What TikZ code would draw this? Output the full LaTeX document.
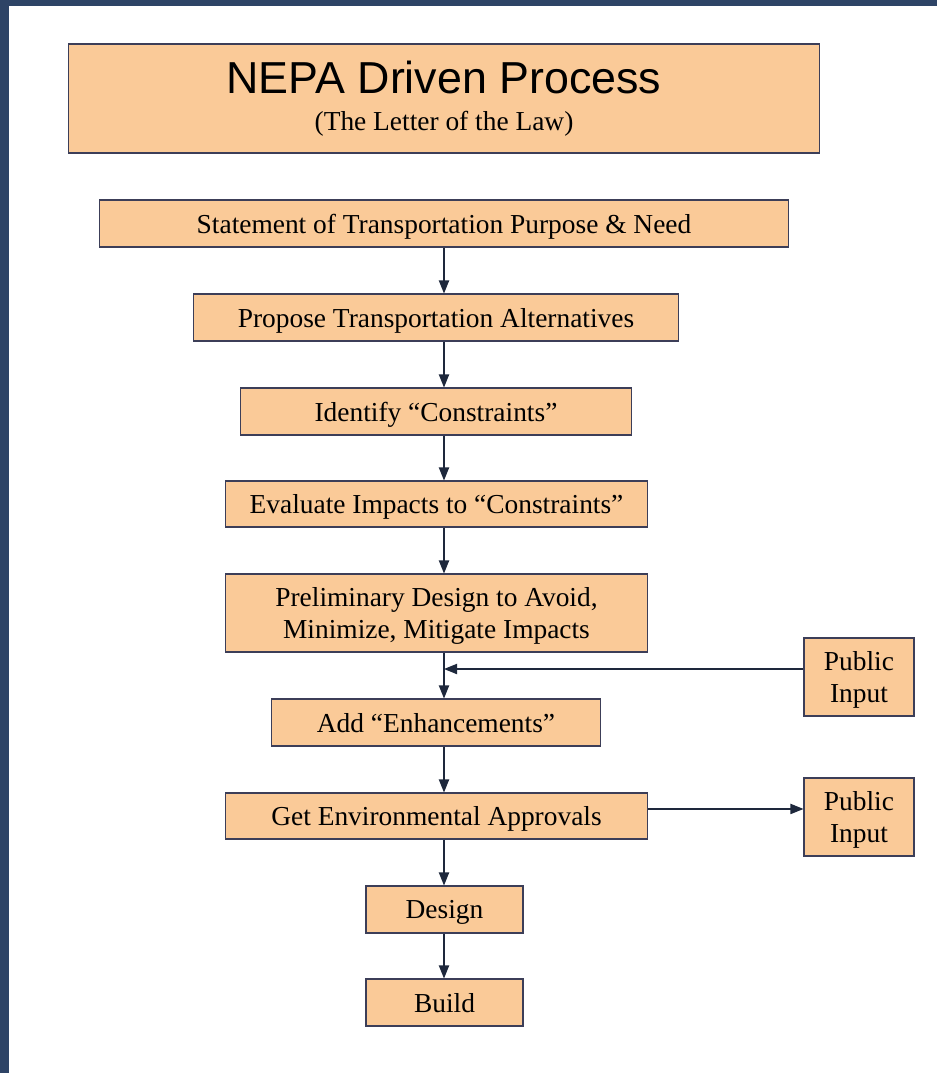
\documentclass[tikz,border=0pt]{standalone}
\usepackage{fontspec}
\usepackage{xcolor}
\usepackage{tikz}
\usetikzlibrary{arrows.meta}
\setmainfont{Liberation Serif}
\newfontfamily\headfont{Liberation Sans}
\definecolor{slide-blue}{RGB}{46,68,102}
\definecolor{box-fill}{RGB}{250,202,152}
\definecolor{box-line}{RGB}{60,62,88}
\definecolor{arrow-line}{RGB}{30,40,60}
\tikzset{
    step-box/.style = {draw=box-line, fill=box-fill, line width=0.6pt, rectangle, inner sep=0pt, text depth=0pt, align=center, font=\fontsize{15.6}{18}\selectfont},
    flow-arrow/.style = {draw=arrow-line, line width=0.7pt, -{Triangle[length=7.4pt,width=5.8pt]}},
}

\begin{document}
\begin{tikzpicture}[x=0.02cm, y=-0.02cm]
\fill[slide-blue] (0,0) rectangle (937,1073);
\fill[white] (9,6) rectangle (937,1073);
\useasboundingbox (0,0) rectangle (937,1073);

\node[step-box, minimum width=15.04cm, minimum height=2.18cm] (title) at (444,98.5) {};
\node[anchor=base, font=\headfont\fontsize{25.5}{30}\selectfont] (title-text) at (444,93) {NEPA Driven Process};
\node[anchor=base, font=\fontsize{15.6}{18}\selectfont] (title-sub) at (444,130) {(The Letter of the Law)};

\node[step-box, minimum width=13.8cm, minimum height=0.94cm] (need) at (444,223.5) {Statement of Transportation Purpose \& Need};
\node[step-box, minimum width=9.72cm, minimum height=0.94cm] (propose) at (436,317.5) {Propose Transportation Alternatives};
\node[step-box, minimum width=7.84cm, minimum height=0.94cm] (identify) at (436,411.5) {Identify “Constraints”};
\node[step-box, minimum width=8.46cm, minimum height=0.92cm] (evaluate) at (436.5,504) {Evaluate Impacts to “Constraints”};
\node[step-box, minimum width=8.46cm, minimum height=1.56cm] (prelim) at (436.5,613) {Preliminary Design to Avoid,\\Minimize, Mitigate Impacts};
\node[step-box, minimum width=6.6cm, minimum height=0.94cm] (enhance) at (436,722.5) {Add “Enhancements”};
\node[step-box, minimum width=8.46cm, minimum height=0.92cm] (approve) at (436.5,816) {Get Environmental Approvals};
\node[step-box, minimum width=3.14cm, minimum height=0.94cm] (design) at (444.5,909.5) {Design};
\node[step-box, minimum width=3.14cm, minimum height=0.94cm] (build) at (444.5,1002.5) {Build};

\node[step-box, minimum width=2.2cm, minimum height=1.56cm] (public-in) at (859,677) {Public\\Input};
\node[step-box, minimum width=2.2cm, minimum height=1.56cm] (public-out) at (859,817) {Public\\Input};

\coordinate (col) at (444,0);
\coordinate (merge) at (444,669);
\coordinate (split) at ([yshift=4pt]approve.east);

\foreach \a/\b in {need/propose, propose/identify, identify/evaluate, evaluate/prelim, prelim/enhance, enhance/approve, approve/design, design/build}
    \draw[flow-arrow] (\a.south -| col) -- (\b.north -| col);

\draw[flow-arrow] (public-in.west |- merge) -- (merge);
\draw[flow-arrow] (split) -- (split -| public-out.west);
\end{tikzpicture}
\end{document}
